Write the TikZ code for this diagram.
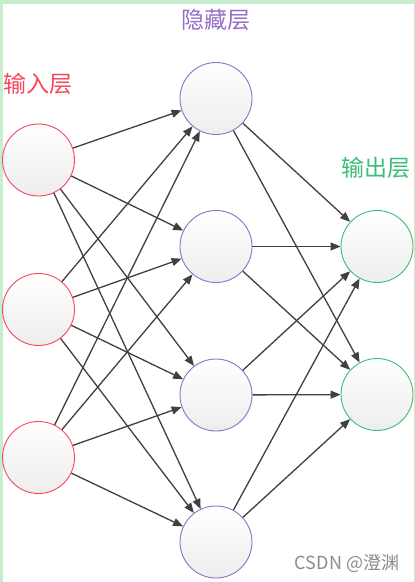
\documentclass[tikz,border=0pt]{standalone}
\usepackage{fontspec}
\newfontfamily\cjk{Noto Sans CJK SC}
\usetikzlibrary{arrows.meta}
\definecolor{bggreen}{RGB}{200,238,208}
\definecolor{inred}{RGB}{250,70,90}
\definecolor{hidpurple}{RGB}{150,110,200}
\definecolor{outgreen}{RGB}{60,190,120}
\definecolor{edgegray}{RGB}{64,64,64}
\definecolor{wmgray}{RGB}{140,140,140}
\tikzset{
  neuron/.style={circle, minimum size=72pt, inner sep=0pt, line width=0.9pt,
    top color=white, bottom color=gray!14},
  innode/.style={neuron, draw=inred},
  hidnode/.style={neuron, draw=hidpurple},
  outnode/.style={neuron, draw=outgreen},
  conn/.style={draw=edgegray, line width=1.3pt,
    -{Triangle[length=10pt,width=8pt]}},
  lbl/.style={font=\cjk\fontsize{23}{26}\selectfont, inner sep=0pt},
}
\begin{document}
\begin{tikzpicture}[x=1pt,y=-1pt]
\useasboundingbox (0,0) rectangle (415,582);
\fill[bggreen] (0,0) rectangle (415,582);
\fill[white] (3,4) rectangle (414,582);

\node[innode] (i1) at (38.5,160) {};
\node[innode] (i2) at (38.5,309.5) {};
\node[innode] (i3) at (38.5,457.5) {};

\node[hidnode] (h1) at (216,98.5) {};
\node[hidnode] (h2) at (216,246.5) {};
\node[hidnode] (h3) at (216,395) {};
\node[hidnode] (h4) at (216,542) {};

\node[outnode] (o1) at (377,246.5) {};
\node[outnode] (o2) at (377,394.5) {};

\foreach \i in {1,2,3}
  \foreach \h in {1,2,3,4}
    \draw[conn] (i\i) -- (h\h);
\foreach \h in {1,2,3,4}
  \foreach \o in {1,2}
    \draw[conn] (h\h) -- (o\o);

\node[lbl, text=hidpurple] (thid) at (216,20) {隐藏层};
\node[lbl, text=inred] (tin) at (38,84) {输入层};
\node[lbl, text=outgreen] (tout) at (376,168) {输出层};
\node[font=\cjk\fontsize{18}{21}\selectfont, text=wmgray, inner sep=0pt] (wm) at (347,563.5) {CSDN @澄渊};
\end{tikzpicture}
\end{document}
